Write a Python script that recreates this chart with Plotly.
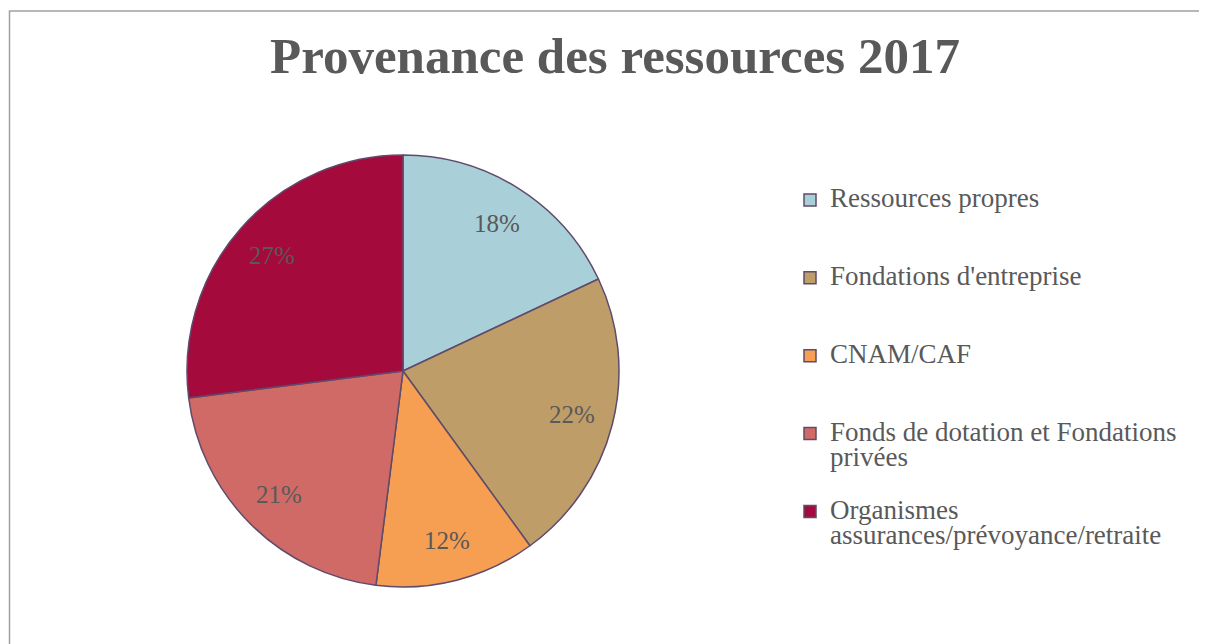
import math
import textwrap
import plotly.graph_objects as go

# ---- data ----
categories = [
    "Ressources propres",
    "Fondations d'entreprise",
    "CNAM/CAF",
    "Fonds de dotation et Fondations privées",
    "Organismes assurances/prévoyance/retraite",
]
values = [18, 22, 12, 21, 27]
colors = ["#A9D0D8", "#BF9D68", "#F69E52", "#D06A66", "#A40B3C"]
title_text = "Provenance des ressources 2017"

W, H = 1207, 644
OFF = 8  # page body margin
TEXT = "#595959"
FONT = "Liberation Serif"


def fx(x):
    return (x - OFF) / W


def fy(y):
    return 1 - (y - OFF) / H


def legend_label(name):
    lines = textwrap.wrap(name, width=31)
    lines = [f"<span style='font-size:27px'>{ln}</span>" for ln in lines]
    while len(lines) < 3:
        lines.append("&nbsp;")
    return "<br>".join(lines)


labels = [legend_label(c) for c in categories]

# pie geometry (paper coords)
dom_x = [fx(187), fx(619)]
dom_y = [fy(587), fy(155)]

fig = go.Figure()
fig.add_trace(go.Pie(
    labels=labels,
    values=values,
    sort=False,
    direction="clockwise",
    rotation=0,
    marker=dict(colors=colors, line=dict(color="#5F4B6B", width=1.5)),
    textinfo="none",
    hoverinfo="skip",
    domain=dict(x=dom_x, y=dom_y),
))

# percentage labels, placed from the values along each slice's mid angle
cx = (dom_x[0] + dom_x[1]) / 2 * W
cy = (1 - (dom_y[0] + dom_y[1]) / 2) * H
R = min((dom_x[1] - dom_x[0]) * W, (dom_y[1] - dom_y[0]) * H) / 2
total = sum(values)
cum = 0
for v in values:
    mid = (cum + v / 2) / total * 2 * math.pi
    cum += v
    px = cx + 0.81 * R * math.sin(mid)
    py = cy - 0.81 * R * math.cos(mid)
    fig.add_annotation(
        x=px / W, y=1 - py / H, xref="paper", yref="paper",
        text=f"{round(v / total * 100)}%", showarrow=False,
        font=dict(family=FONT, size=25, color=TEXT),
        xanchor="center", yanchor="middle",
    )

# chart border
fig.add_shape(type="rect", xref="paper", yref="paper",
              x0=fx(9.5), x1=1.05, y0=-0.05, y1=fy(11),
              line=dict(color="#A0A0A0", width=1.5), fillcolor="rgba(0,0,0,0)")

fig.update_layout(
    width=W, height=H,
    margin=dict(l=0, r=0, t=0, b=0),
    paper_bgcolor="white", plot_bgcolor="white",
    title=dict(text=f"<b>{title_text}</b>", x=fx(615), xanchor="center",
               y=fy(55), yanchor="middle", yref="paper",
               font=dict(family=FONT, size=51, color=TEXT)),
    legend=dict(x=fx(790), y=fy(181), xanchor="left", yanchor="top",
                valign="top", font=dict(family=FONT, size=19.2, color=TEXT),
                bgcolor="rgba(0,0,0,0)", itemclick=False),
    showlegend=True,
)

fig.write_html("out.html")
